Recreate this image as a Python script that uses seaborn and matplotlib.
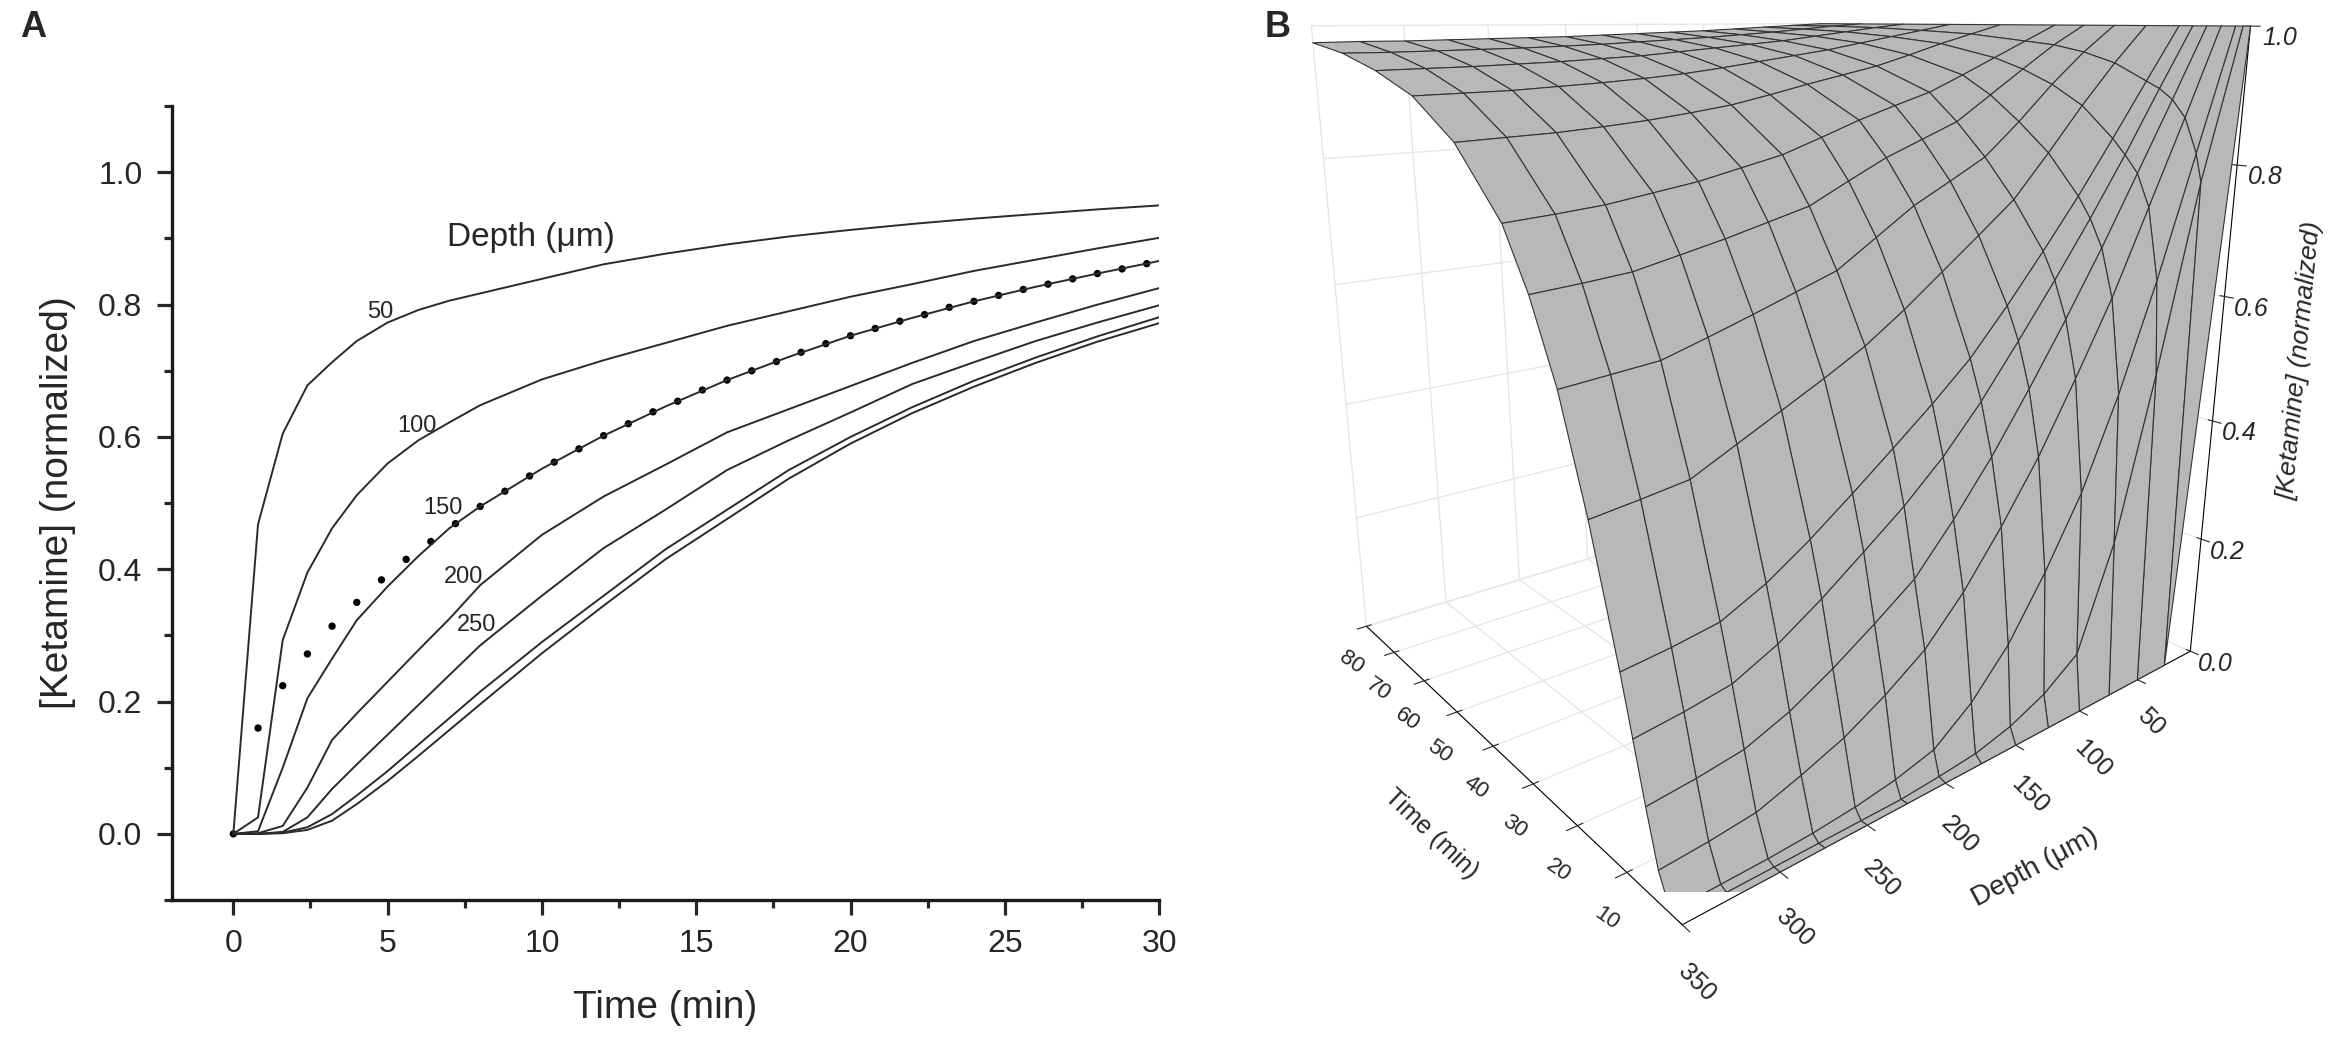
import numpy as np
import pandas as pd
import seaborn as sns
import matplotlib.pyplot as plt
from matplotlib.ticker import MultipleLocator

# ---- panel A : concentration vs time for several depths ----
times = [0, 0.8, 1.6, 2.4, 3.2, 4, 5, 6, 7, 8, 10, 12, 14, 16, 18, 20, 22, 24, 26, 28, 30]
conc_50 = [0, 0.468, 0.605, 0.678, 0.713, 0.745, 0.773, 0.792, 0.806, 0.817, 0.839, 0.861,
           0.877, 0.891, 0.903, 0.913, 0.922, 0.930, 0.937, 0.944, 0.950]
conc_100 = [0, 0.025, 0.293, 0.395, 0.462, 0.512, 0.560, 0.595, 0.622, 0.648, 0.687, 0.716,
            0.742, 0.768, 0.790, 0.812, 0.831, 0.851, 0.868, 0.885, 0.901]
conc_150 = [0, 0.004, 0.100, 0.205, 0.265, 0.323, 0.374, 0.420, 0.462, 0.495, 0.552, 0.602,
            0.646, 0.686, 0.721, 0.753, 0.780, 0.805, 0.827, 0.847, 0.866]
conc_200 = [0, 0.001, 0.012, 0.070, 0.142, 0.182, 0.230, 0.278, 0.325, 0.376, 0.452, 0.510,
            0.558, 0.607, 0.642, 0.677, 0.712, 0.745, 0.773, 0.800, 0.825]
conc_250 = [0, 0, 0.003, 0.025, 0.068, 0.105, 0.150, 0.195, 0.240, 0.285, 0.360, 0.432,
            0.490, 0.550, 0.595, 0.637, 0.680, 0.713, 0.745, 0.773, 0.799]
conc_300 = [0, 0, 0.002, 0.010, 0.030, 0.058, 0.095, 0.135, 0.175, 0.215, 0.290, 0.360,
            0.430, 0.490, 0.550, 0.600, 0.645, 0.685, 0.720, 0.752, 0.781]
conc_350 = [0, 0, 0.001, 0.006, 0.020, 0.045, 0.080, 0.118, 0.157, 0.196, 0.273, 0.345,
            0.415, 0.476, 0.537, 0.590, 0.636, 0.676, 0.712, 0.744, 0.772]
depths = [50, 100, 150, 200, 250, 300, 350]
label_depths = ['50', '100', '150', '200', '250']

dot_times = [0, 0.8, 1.6, 2.4, 3.2, 4.0, 4.8, 5.6, 6.4, 7.2, 8.0, 8.8, 9.6, 10.4, 11.2, 12.0,
             12.8, 13.6, 14.4, 15.2, 16.0, 16.8, 17.6, 18.4, 19.2, 20.0, 20.8, 21.6, 22.4,
             23.2, 24.0, 24.8, 25.6, 26.4, 27.2, 28.0, 28.8, 29.6]
dot_conc = [0, 0.160, 0.224, 0.272, 0.314, 0.350, 0.384, 0.415, 0.442, 0.469, 0.495, 0.518,
            0.541, 0.562, 0.582, 0.602, 0.620, 0.638, 0.654, 0.671, 0.686, 0.700, 0.714,
            0.728, 0.741, 0.753, 0.764, 0.775, 0.785, 0.796, 0.805, 0.814, 0.823, 0.831,
            0.839, 0.847, 0.854, 0.862]

# ---- panel B : surface, rows = time, columns = depth ----
surf_times = [0, 1, 2, 4, 6, 8, 10, 15, 20, 25, 30, 40, 50, 60, 70, 80]
surf_depths = [0, 25, 50, 75, 100, 125, 150, 175, 200, 225, 250, 275, 300, 325, 350]
surf_conc = [
    [1, 0, 0, 0, 0, 0, 0, 0, 0, 0, 0, 0, 0, 0, 0],
    [1, 0.78, 0.50, 0.25, 0.09, 0.05, 0.025, 0.01, 0.004, 0, 0, 0, 0, 0, 0],
    [1, 0.82, 0.64, 0.48, 0.344, 0.24, 0.15, 0.085, 0.04, 0.024, 0.014, 0.008, 0.005, 0.004, 0.003],
    [1, 0.87, 0.745, 0.62, 0.512, 0.41, 0.323, 0.245, 0.182, 0.14, 0.105, 0.08, 0.058, 0.05, 0.045],
    [1, 0.895, 0.792, 0.69, 0.595, 0.505, 0.42, 0.345, 0.278, 0.235, 0.195, 0.16, 0.135, 0.125, 0.118],
    [1, 0.91, 0.817, 0.73, 0.648, 0.57, 0.495, 0.43, 0.376, 0.33, 0.285, 0.245, 0.215, 0.204, 0.196],
    [1, 0.92, 0.839, 0.76, 0.687, 0.617, 0.552, 0.50, 0.452, 0.405, 0.36, 0.32, 0.29, 0.28, 0.273],
    [1, 0.945, 0.884, 0.818, 0.755, 0.71, 0.666, 0.622, 0.582, 0.55, 0.52, 0.49, 0.46, 0.452, 0.445],
    [1, 0.96, 0.913, 0.86, 0.812, 0.782, 0.753, 0.715, 0.677, 0.657, 0.637, 0.618, 0.60, 0.595, 0.59],
    [1, 0.97, 0.934, 0.897, 0.86, 0.838, 0.816, 0.788, 0.759, 0.744, 0.729, 0.716, 0.703, 0.698, 0.694],
    [1, 0.975, 0.95, 0.925, 0.901, 0.884, 0.866, 0.845, 0.825, 0.812, 0.799, 0.79, 0.781, 0.776, 0.772],
    [1, 0.985, 0.97, 0.953, 0.937, 0.925, 0.913, 0.90, 0.888, 0.88, 0.873, 0.868, 0.864, 0.862, 0.86],
    [1, 0.99, 0.98, 0.97, 0.96, 0.952, 0.944, 0.936, 0.929, 0.924, 0.92, 0.917, 0.914, 0.913, 0.912],
    [1, 0.994, 0.987, 0.98, 0.973, 0.968, 0.963, 0.958, 0.953, 0.95, 0.947, 0.945, 0.943, 0.942, 0.941],
    [1, 0.996, 0.991, 0.986, 0.982, 0.978, 0.975, 0.972, 0.969, 0.967, 0.965, 0.964, 0.963, 0.962, 0.962],
    [1, 0.997, 0.994, 0.991, 0.988, 0.986, 0.984, 0.982, 0.98, 0.979, 0.978, 0.977, 0.976, 0.976, 0.975],
]

sns.set_style('white')
plt.rcParams['font.family'] = ['Liberation Sans', 'DejaVu Sans']

fig = plt.figure(figsize=(23.35, 10.41), dpi=100)

# ------------------ A ------------------
ax = fig.add_axes([0.0735, 0.1354, 0.4229, 0.7626])
curves = [conc_50, conc_100, conc_150, conc_200, conc_250, conc_300, conc_350]
df = pd.concat([pd.DataFrame({'time': times, 'conc': c, 'depth': d})
                for c, d in zip(curves, depths)])
for d, sub in df.groupby('depth'):
    sns.lineplot(data=sub, x='time', y='conc', color='#2a2a2a', linewidth=1.4,
                 estimator=None, sort=False, ax=ax)
sns.scatterplot(x=dot_times, y=dot_conc, color='black', s=28, edgecolor='none', ax=ax)

ax.set_xlim(-2, 30)
ax.set_ylim(-0.1, 1.1)
ax.xaxis.set_major_locator(MultipleLocator(5))
ax.xaxis.set_minor_locator(MultipleLocator(2.5))
ax.yaxis.set_major_locator(MultipleLocator(0.2))
ax.yaxis.set_minor_locator(MultipleLocator(0.1))
ax.yaxis.set_major_formatter(plt.FuncFormatter(lambda v, p: f'{v:.1f}'))
ax.tick_params(which='major', direction='out', length=11, width=2.3, labelsize=23, pad=10,
               bottom=True, left=True)
ax.tick_params(which='minor', direction='out', length=6, width=2.3, bottom=True, left=True)
sns.despine(ax=ax)
for s in ['left', 'bottom']:
    ax.spines[s].set_linewidth(2.4)
    ax.spines[s].set_color('#1a1a1a')
ax.set_xlabel('Time (min)', fontsize=28, labelpad=22)
ax.set_ylabel('[Ketamine] (normalized)', fontsize=28)
ax.yaxis.set_label_coords(-0.097, 0.5)

label_pos = [(4.75, 0.789), (5.95, 0.616), (6.8, 0.492), (7.45, 0.389), (7.88, 0.316)]
for txt, (tx, ty) in zip(label_depths, label_pos):
    ax.text(tx, ty, txt, fontsize=17, ha='center', va='center')
ax.text(9.64, 0.902, 'Depth (\u03bcm)', fontsize=24, ha='center', va='center')

fig.text(0.014, 0.974, 'A', fontsize=26, fontweight='bold', ha='center', va='center')
fig.text(0.547, 0.974, 'B', fontsize=26, fontweight='bold', ha='center', va='center')

# ------------------ B ------------------
ax3 = fig.add_axes([0.527, 0.118, 0.45, 1.06], projection='3d')
T, D = np.meshgrid(surf_times, surf_depths, indexing='ij')
Z = np.array(surf_conc)
ax3.plot_surface(T, D, Z, color='#b8b8b8', edgecolor='#333333', linewidth=0.8,
                 shade=False, rstride=1, cstride=1, antialiased=True)
ax3.set_xlim(0, 80)
ax3.set_ylim(0, 350)
ax3.set_zlim(0, 1)
ax3.set_proj_type('persp', focal_length=0.22)
ax3.view_init(elev=15, azim=141)
ax3.set_box_aspect((1.15, 1.25, 1.22), zoom=1.0)
for axis in (ax3.xaxis, ax3.yaxis, ax3.zaxis):
    axis.set_pane_color((1, 1, 1, 1))
    axis._axinfo['grid']['color'] = (0.9, 0.9, 0.9, 1)
    axis._axinfo['grid']['linewidth'] = 1.0
    axis.line.set_color('black')
ax3.set_xticks([10, 20, 30, 40, 50, 60, 70, 80])
ax3.set_yticks([50, 100, 150, 200, 250, 300, 350])
ax3.set_zticks([0, 0.2, 0.4, 0.6, 0.8, 1.0])
ax3.zaxis.set_major_formatter(plt.FuncFormatter(lambda v, p: f'{v:.1f}'))
ax3.tick_params(axis='x', labelsize=16, labelrotation=-35)
ax3.tick_params(axis='y', labelsize=18, labelrotation=-45)
ax3.tick_params(axis='z', labelsize=18)
for lab in ax3.get_zticklabels():
    lab.set_style('italic')
ax3.set_xlabel('Time (min)', fontsize=18, labelpad=18)
ax3.set_ylabel('Depth (\u03bcm)', fontsize=20, labelpad=22)
ax3.set_zlabel('[Ketamine] (normalized)', fontsize=19, labelpad=14, style='italic')

fig.savefig('out.png', dpi=100)
